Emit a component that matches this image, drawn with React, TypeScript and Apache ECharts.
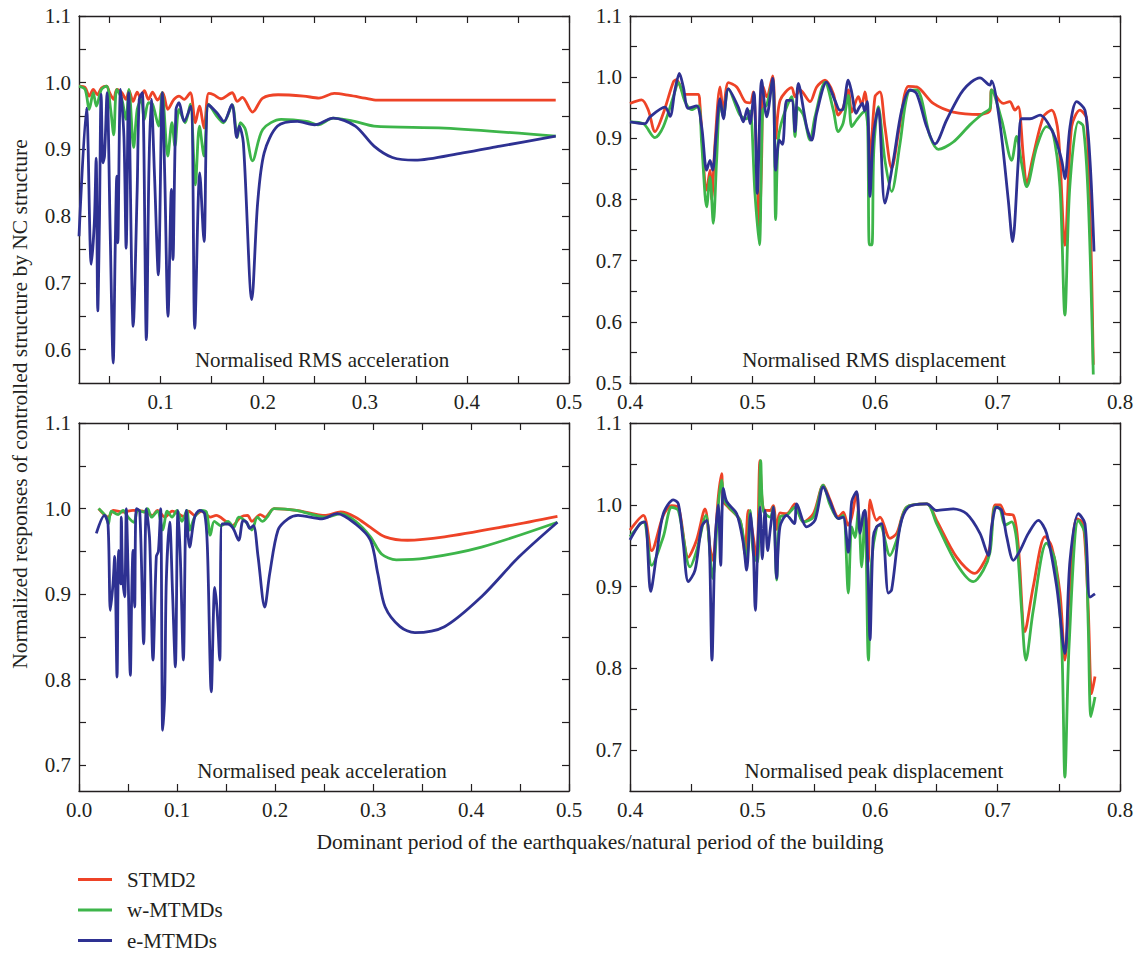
import React, { useEffect, useRef } from "react";
import * as echarts from "echarts";

// ---------- Data ----------
const seriesNames = ["STMD2", "w-MTMDs", "e-MTMDs"];
const seriesColors = ["#EE4327", "#3DB54A", "#2E3192"];

const panelTitles = [
  "Normalised RMS acceleration",
  "Normalised RMS displacement",
  "Normalised peak acceleration",
  "Normalised peak displacement",
];

// tick labels
const accXLabels = [0.1, 0.2, 0.3, 0.4, 0.5];
const accXLabelsBottom = [0.0, 0.1, 0.2, 0.3, 0.4, 0.5];
const accXTicks = [0.05, 0.1, 0.15, 0.2, 0.25, 0.3, 0.35, 0.4, 0.45, 0.5];
const accXTicksBottom = [0.0, 0.05, 0.1, 0.15, 0.2, 0.25, 0.3, 0.35, 0.4, 0.45, 0.5];
const dispXLabels = [0.4, 0.5, 0.6, 0.7, 0.8];
const dispXTicks = [0.4, 0.45, 0.5, 0.55, 0.6, 0.65, 0.7, 0.75, 0.8];
const rmsAccYLabels = [0.6, 0.7, 0.8, 0.9, 1.0, 1.1];
const rmsAccYTicks = [0.6, 0.65, 0.7, 0.75, 0.8, 0.85, 0.9, 0.95, 1.0, 1.05, 1.1];
const rmsDispYLabels = [0.5, 0.6, 0.7, 0.8, 0.9, 1.0, 1.1];
const rmsDispYTicks = [0.5, 0.55, 0.6, 0.65, 0.7, 0.75, 0.8, 0.85, 0.9, 0.95, 1.0, 1.05, 1.1];
const peakYLabels = [0.7, 0.8, 0.9, 1.0, 1.1];
const peakYTicks = [0.7, 0.75, 0.8, 0.85, 0.9, 0.95, 1.0, 1.05, 1.1];

// Normalised RMS acceleration
const rmsAccSTMD2 = [
  [0.02, 0.995], [0.026, 0.993], [0.03, 0.98], [0.034, 0.99], [0.038, 0.982], [0.042, 0.992],
  [0.047, 0.995], [0.05, 0.985], [0.054, 0.975], [0.057, 0.99], [0.062, 0.985], [0.066, 0.975],
  [0.069, 0.988], [0.073, 0.972], [0.077, 0.986], [0.08, 0.978], [0.084, 0.988], [0.088, 0.975],
  [0.092, 0.986], [0.097, 0.974], [0.102, 0.985], [0.107, 0.96], [0.113, 0.975], [0.118, 0.98],
  [0.123, 0.975], [0.129, 0.985], [0.134, 0.94], [0.138, 0.965], [0.1425, 0.932], [0.147, 0.984],
  [0.152, 0.982], [0.159, 0.976], [0.17, 0.985], [0.175, 0.972], [0.18, 0.978], [0.19, 0.956],
  [0.2, 0.977], [0.215, 0.982], [0.24, 0.98], [0.255, 0.977], [0.27, 0.984], [0.285, 0.981],
  [0.3, 0.977], [0.312, 0.974], [0.35, 0.974], [0.4, 0.974], [0.487, 0.974],
];
const rmsAccWMTMD = [
  [0.02, 0.995], [0.026, 0.99], [0.03, 0.96], [0.034, 0.985], [0.037, 0.965], [0.042, 0.99],
  [0.047, 0.995], [0.051, 0.96], [0.054, 0.922], [0.057, 0.99], [0.062, 0.975], [0.066, 0.945],
  [0.069, 0.99], [0.0735, 0.903], [0.077, 0.96], [0.081, 0.975], [0.084, 0.945], [0.088, 0.97],
  [0.092, 0.968], [0.098, 0.935], [0.1015, 0.985], [0.107, 0.89], [0.111, 0.94], [0.114, 0.905],
  [0.118, 0.96], [0.124, 0.94], [0.129, 0.968], [0.134, 0.847], [0.138, 0.935], [0.1425, 0.89],
  [0.147, 0.968], [0.155, 0.95], [0.1615, 0.94], [0.17, 0.967], [0.175, 0.918], [0.178, 0.94],
  [0.183, 0.93], [0.19, 0.883], [0.2, 0.93], [0.218, 0.945], [0.243, 0.942], [0.254, 0.937],
  [0.269, 0.947], [0.29, 0.942], [0.309, 0.935], [0.378, 0.932], [0.487, 0.92],
];
const rmsAccEMTMD = [
  [0.02, 0.77], [0.0273, 0.962], [0.032, 0.728], [0.035, 0.79], [0.0368, 0.887], [0.0384, 0.658],
  [0.04, 0.79], [0.0417, 0.983], [0.0435, 0.88], [0.045, 0.89], [0.0475, 0.985], [0.0505, 0.78],
  [0.0535, 0.58], [0.0555, 0.755], [0.057, 0.86], [0.058, 0.76], [0.0607, 0.99], [0.064, 0.92],
  [0.0662, 0.752], [0.0685, 0.985], [0.0731, 0.635], [0.077, 0.84], [0.079, 0.975], [0.082, 0.985],
  [0.086, 0.615], [0.0885, 0.87], [0.0908, 0.975], [0.094, 0.86], [0.0977, 0.712], [0.1016, 0.985],
  [0.104, 0.86], [0.1072, 0.65], [0.1105, 0.84], [0.112, 0.735], [0.115, 0.96], [0.118, 0.97],
  [0.123, 0.942], [0.1295, 0.965], [0.1334, 0.632], [0.1383, 0.865], [0.1425, 0.762], [0.1468, 0.967],
  [0.155, 0.955], [0.162, 0.942], [0.1697, 0.967], [0.1746, 0.918], [0.177, 0.935], [0.181, 0.91],
  [0.1893, 0.675], [0.195, 0.82], [0.2014, 0.895], [0.2145, 0.935], [0.234, 0.942], [0.2507, 0.937],
  [0.269, 0.947], [0.2907, 0.935], [0.309, 0.905], [0.327, 0.888], [0.349, 0.884], [0.396, 0.895],
  [0.4326, 0.905], [0.487, 0.92],
];

// Normalised RMS displacement
const rmsDispSTMD2 = [
  [0.4, 0.957], [0.4095, 0.963], [0.415, 0.946], [0.4204, 0.911], [0.4272, 0.941], [0.4354, 0.992],
  [0.438, 0.996], [0.4449, 0.972], [0.4558, 0.972], [0.457, 0.957], [0.4626, 0.8155], [0.4653, 0.848],
  [0.4667, 0.8], [0.4694, 0.892], [0.4735, 0.984], [0.4762, 0.946], [0.4803, 0.991], [0.4871, 0.984],
  [0.4939, 0.96], [0.498, 0.958], [0.5007, 0.976], [0.5034, 0.864], [0.5056, 0.756], [0.5075, 0.87],
  [0.5088, 0.984], [0.5116, 0.968], [0.5165, 1.002], [0.519, 0.9], [0.5225, 0.962], [0.532, 0.983],
  [0.5347, 0.968], [0.5388, 0.979], [0.547, 0.96], [0.5524, 0.984], [0.5592, 0.995], [0.566, 0.973],
  [0.57, 0.938], [0.574, 0.95], [0.5782, 0.979], [0.581, 0.943], [0.5864, 0.968], [0.5891, 0.955],
  [0.5918, 0.976], [0.5946, 0.919], [0.596, 0.864], [0.6, 0.968], [0.604, 0.976], [0.6081, 0.919],
  [0.6136, 0.851], [0.62, 0.919], [0.6272, 0.985], [0.634, 0.984], [0.6476, 0.957], [0.6639, 0.943],
  [0.6857, 0.939], [0.6939, 0.946], [0.6952, 0.979], [0.7047, 0.957], [0.71, 0.96], [0.7143, 0.946],
  [0.717, 0.952], [0.7211, 0.87], [0.7238, 0.826], [0.729, 0.87], [0.7374, 0.935], [0.7442, 0.946],
  [0.7496, 0.908], [0.755, 0.725], [0.7605, 0.919], [0.7673, 0.946], [0.7728, 0.932], [0.7782, 0.53],
];
const rmsDispWMTMD = [
  [0.4, 0.927], [0.4109, 0.924], [0.4204, 0.901], [0.4272, 0.919], [0.4354, 0.968], [0.4395, 0.991],
  [0.4449, 0.96], [0.4503, 0.947], [0.4558, 0.953], [0.4585, 0.892], [0.4626, 0.788], [0.4653, 0.837],
  [0.468, 0.761], [0.4707, 0.864], [0.4735, 0.96], [0.4762, 0.935], [0.4803, 0.981], [0.4898, 0.938],
  [0.4952, 0.932], [0.498, 0.945], [0.502, 0.81], [0.5056, 0.726], [0.5083, 0.946], [0.5116, 0.955],
  [0.5165, 0.995], [0.5189, 0.767], [0.521, 0.897], [0.525, 0.935], [0.532, 0.968], [0.5347, 0.903],
  [0.537, 0.95], [0.5415, 0.938], [0.547, 0.897], [0.551, 0.935], [0.5592, 0.992], [0.566, 0.946],
  [0.57, 0.911], [0.574, 0.925], [0.5782, 0.97], [0.581, 0.919], [0.585, 0.93], [0.589, 0.94],
  [0.5918, 0.945], [0.594, 0.92], [0.5954, 0.726], [0.5975, 0.726], [0.599, 0.88], [0.6027, 0.952],
  [0.6081, 0.864], [0.6136, 0.813], [0.6204, 0.891], [0.6272, 0.976], [0.634, 0.979], [0.645, 0.903],
  [0.6517, 0.882], [0.6639, 0.894], [0.6775, 0.922], [0.6884, 0.941], [0.6939, 0.949], [0.6952, 0.979],
  [0.7034, 0.93], [0.7116, 0.864], [0.7156, 0.903], [0.7197, 0.859], [0.7238, 0.821], [0.732, 0.886],
  [0.7401, 0.919], [0.745, 0.912], [0.751, 0.82], [0.755, 0.611], [0.759, 0.82], [0.766, 0.927],
  [0.77, 0.92], [0.7741, 0.8], [0.7782, 0.514],
];
const rmsDispEMTMD = [
  [0.4, 0.927], [0.4122, 0.924], [0.4163, 0.935], [0.4286, 0.951], [0.4327, 0.936], [0.4367, 0.979],
  [0.4403, 1.006], [0.4435, 0.984], [0.4476, 0.949], [0.4544, 0.953], [0.4585, 0.919], [0.4626, 0.848],
  [0.4653, 0.864], [0.4675, 0.848], [0.4702, 0.903], [0.4735, 0.965], [0.4762, 0.932], [0.4803, 0.981],
  [0.4884, 0.951], [0.4925, 0.927], [0.4958, 0.949], [0.498, 0.924], [0.5012, 0.975], [0.5039, 0.81],
  [0.5075, 0.995], [0.5116, 0.935], [0.5165, 0.998], [0.5189, 0.848], [0.5219, 0.897], [0.5245, 0.89],
  [0.5279, 0.962], [0.532, 0.962], [0.5347, 0.911], [0.5374, 0.99], [0.5442, 0.919], [0.5483, 0.897],
  [0.5524, 0.941], [0.5605, 0.992], [0.5673, 0.962], [0.5714, 0.946], [0.574, 0.948], [0.5782, 0.995],
  [0.581, 0.975], [0.5845, 0.941], [0.587, 0.95], [0.5897, 0.957], [0.5915, 0.945], [0.5937, 0.96],
  [0.5959, 0.805], [0.5986, 0.903], [0.6027, 0.949], [0.6081, 0.794], [0.615, 0.864], [0.6218, 0.946],
  [0.6286, 0.979], [0.634, 0.973], [0.6422, 0.919], [0.649, 0.891], [0.6585, 0.93], [0.672, 0.979],
  [0.6857, 0.999], [0.6939, 0.987], [0.6952, 0.994], [0.702, 0.924], [0.7088, 0.799], [0.7123, 0.731],
  [0.717, 0.864], [0.7197, 0.932], [0.7265, 0.932], [0.7347, 0.938], [0.7456, 0.908], [0.7524, 0.864],
  [0.755, 0.834], [0.7592, 0.919], [0.7646, 0.96], [0.7714, 0.946], [0.7755, 0.864], [0.7788, 0.715],
];

// Normalised peak acceleration
const peakAccSTMD2 = [
  [0.02, 1.0], [0.03, 0.99], [0.035, 0.998], [0.045, 0.996], [0.055, 0.998], [0.065, 0.997],
  [0.075, 0.992], [0.08, 0.998], [0.0876, 0.99], [0.095, 0.997], [0.1086, 0.99], [0.112, 0.997],
  [0.118, 0.992], [0.125, 0.997], [0.134, 0.99], [0.14, 0.992], [0.15, 0.985], [0.1563, 0.98],
  [0.165, 0.99], [0.172, 0.992], [0.1764, 0.985], [0.185, 0.993], [0.19, 0.99], [0.199, 1.0],
  [0.2217, 0.998], [0.252, 0.992], [0.267, 0.996], [0.2822, 0.99], [0.2974, 0.978], [0.3124, 0.967],
  [0.3351, 0.963], [0.373, 0.967], [0.4296, 0.978], [0.4882, 0.991],
];
const peakAccWMTMD = [
  [0.02, 1.0], [0.028, 0.99], [0.03, 0.982], [0.033, 0.997], [0.04, 0.993], [0.045, 0.998],
  [0.05, 0.99], [0.056, 0.984], [0.06, 0.998], [0.066, 0.996], [0.07, 1.0], [0.074, 0.99],
  [0.08, 0.997], [0.0855, 0.975], [0.09, 0.997], [0.095, 0.99], [0.1, 0.998], [0.105, 0.985],
  [0.11, 0.998], [0.113, 0.975], [0.118, 0.99], [0.125, 0.998], [0.13, 0.996], [0.134, 0.969],
  [0.138, 0.985], [0.145, 0.98], [0.152, 0.985], [0.158, 0.978], [0.163, 0.99], [0.17, 0.985],
  [0.1764, 0.975], [0.182, 0.99], [0.187, 0.985], [0.192, 0.99], [0.199, 1.0], [0.2217, 0.998],
  [0.252, 0.99], [0.267, 0.994], [0.2822, 0.985], [0.2974, 0.967], [0.3087, 0.947], [0.3238, 0.94],
  [0.354, 0.942], [0.4107, 0.955], [0.4882, 0.984],
];
const peakAccEMTMD = [
  [0.0177, 0.971], [0.026, 0.992], [0.0296, 0.982], [0.032, 0.881], [0.0347, 0.912], [0.0364, 0.944],
  [0.0388, 0.803], [0.0405, 0.951], [0.0425, 0.912], [0.0432, 0.99], [0.0445, 0.92], [0.0466, 0.897],
  [0.0483, 1.0], [0.05, 0.93], [0.0524, 0.805], [0.0538, 0.9], [0.0551, 0.951], [0.0568, 0.885],
  [0.0585, 1.0], [0.062, 0.997], [0.066, 0.842], [0.0687, 1.0], [0.0721, 0.963], [0.0755, 0.823],
  [0.0789, 0.944], [0.081, 0.95], [0.0833, 1.0], [0.0854, 0.741], [0.0874, 0.78], [0.0891, 0.916],
  [0.0925, 0.984], [0.0955, 0.9], [0.0983, 0.815], [0.101, 0.998], [0.1035, 0.94], [0.1065, 0.823],
  [0.1095, 0.998], [0.1129, 0.955], [0.118, 0.99], [0.1231, 0.998], [0.1282, 0.994], [0.131, 0.955],
  [0.135, 0.786], [0.1385, 0.908], [0.141, 0.88], [0.1436, 0.823], [0.146, 0.982], [0.152, 0.982],
  [0.1572, 0.977], [0.163, 0.963], [0.1674, 0.986], [0.171, 0.984], [0.1742, 0.977], [0.178, 0.98],
  [0.1827, 0.944], [0.1895, 0.885], [0.1946, 0.924], [0.2031, 0.975], [0.2133, 0.988], [0.2235, 0.992],
  [0.248, 0.988], [0.2633, 0.994], [0.2822, 0.982], [0.2974, 0.963], [0.3049, 0.924], [0.3124, 0.885],
  [0.3276, 0.862], [0.3427, 0.855], [0.3729, 0.862], [0.4107, 0.897], [0.4485, 0.943], [0.4882, 0.984],
];

// Normalised peak displacement
const peakDispSTMD2 = [
  [0.4, 0.969], [0.4109, 0.987], [0.4177, 0.944], [0.4272, 0.987], [0.434, 0.999], [0.4395, 0.997],
  [0.4476, 0.936], [0.4544, 0.957], [0.4612, 0.995], [0.4653, 0.948], [0.4675, 0.932], [0.4721, 1.01],
  [0.4748, 1.038], [0.4762, 1.004], [0.4803, 0.997], [0.4898, 0.981], [0.4939, 0.94], [0.4966, 0.993],
  [0.5007, 0.96], [0.5035, 0.93], [0.5061, 1.054], [0.5088, 0.995], [0.5143, 0.993], [0.517, 0.999],
  [0.5197, 0.97], [0.5224, 0.99], [0.5279, 0.989], [0.5347, 1.001], [0.5415, 0.979], [0.5497, 0.989],
  [0.5578, 1.024], [0.5633, 1.006], [0.5701, 0.985], [0.5741, 0.991], [0.578, 0.975], [0.581, 0.985],
  [0.585, 1.015], [0.5878, 0.97], [0.5918, 0.99], [0.5946, 0.93], [0.5959, 1.006], [0.6013, 0.981],
  [0.6041, 0.985], [0.6122, 0.959], [0.6177, 0.965], [0.6258, 0.997], [0.6422, 1.001], [0.6503, 0.981],
  [0.6666, 0.936], [0.6816, 0.916], [0.6898, 0.932], [0.6939, 0.949], [0.698, 1.0], [0.7021, 1.0],
  [0.7061, 0.989], [0.713, 0.987], [0.717, 0.949], [0.7224, 0.845], [0.7292, 0.9], [0.7388, 0.961],
  [0.7442, 0.949], [0.751, 0.892], [0.755, 0.81], [0.759, 0.9], [0.7646, 0.983], [0.77, 0.977],
  [0.7741, 0.871], [0.7769, 0.769], [0.7796, 0.79],
];
const peakDispWMTMD = [
  [0.4, 0.961], [0.4109, 0.979], [0.4177, 0.926], [0.4272, 0.961], [0.434, 0.997], [0.4395, 0.993],
  [0.449, 0.924], [0.4544, 0.944], [0.462, 0.987], [0.4653, 0.94], [0.4675, 0.91], [0.4721, 1.0],
  [0.4748, 1.03], [0.4775, 1.004], [0.4898, 0.981], [0.4952, 0.932], [0.498, 0.993], [0.5007, 0.94],
  [0.504, 0.93], [0.5067, 1.054], [0.5088, 0.993], [0.5143, 0.985], [0.517, 0.997], [0.5197, 0.908],
  [0.5224, 0.985], [0.5279, 0.987], [0.5347, 0.997], [0.5415, 0.979], [0.5497, 0.985], [0.5578, 1.024],
  [0.5633, 1.0], [0.5701, 0.983], [0.5741, 0.987], [0.5782, 0.892], [0.581, 0.973], [0.5837, 0.96],
  [0.5864, 0.993], [0.5891, 0.924], [0.5918, 0.993], [0.5946, 0.81], [0.5973, 0.932], [0.6014, 0.973],
  [0.6041, 0.975], [0.6122, 0.938], [0.6177, 0.957], [0.6258, 0.997], [0.6422, 1.001], [0.6503, 0.977],
  [0.6666, 0.928], [0.6803, 0.906], [0.6884, 0.92], [0.6939, 0.942], [0.698, 0.997], [0.7021, 0.995],
  [0.7061, 0.975], [0.7116, 0.979], [0.7156, 0.957], [0.7197, 0.871], [0.7232, 0.81], [0.7292, 0.871],
  [0.74, 0.953], [0.7469, 0.932], [0.7524, 0.83], [0.755, 0.667], [0.7585, 0.83], [0.766, 0.981],
  [0.7714, 0.965], [0.7741, 0.851], [0.7763, 0.741], [0.7796, 0.765],
];
const peakDispEMTMD = [
  [0.4, 0.957], [0.4082, 0.977], [0.4122, 0.979], [0.4169, 0.894], [0.4218, 0.94], [0.4272, 0.989],
  [0.4354, 1.006], [0.4395, 1.001], [0.4435, 0.953], [0.4476, 0.906], [0.4531, 0.92], [0.4585, 0.973],
  [0.4626, 0.981], [0.4648, 0.953], [0.4669, 0.81], [0.4694, 0.953], [0.4721, 1.0], [0.474, 0.926],
  [0.4762, 1.02], [0.4789, 1.004], [0.4871, 0.989], [0.4925, 0.953], [0.4952, 0.92], [0.4985, 0.989],
  [0.5007, 0.944], [0.5023, 0.871], [0.5045, 0.96], [0.5061, 0.997], [0.508, 0.934], [0.5102, 0.993],
  [0.5124, 0.944], [0.5145, 0.97], [0.517, 0.997], [0.5197, 0.91], [0.5224, 0.973], [0.5279, 0.987],
  [0.5341, 0.977], [0.5361, 1.001], [0.5442, 0.973], [0.551, 0.981], [0.5578, 1.022], [0.5633, 1.004],
  [0.5701, 0.983], [0.574, 0.985], [0.5782, 0.942], [0.581, 1.004], [0.585, 1.016], [0.5878, 0.965],
  [0.5905, 0.99], [0.5918, 0.993], [0.5946, 0.904], [0.5959, 0.835], [0.5985, 0.96], [0.6013, 0.973],
  [0.6054, 0.977], [0.6109, 0.892], [0.6136, 0.896], [0.6204, 0.973], [0.6272, 0.997], [0.6422, 1.001],
  [0.6503, 0.993], [0.664, 0.995], [0.6748, 0.989], [0.6857, 0.965], [0.6925, 0.938], [0.6952, 0.973],
  [0.6993, 0.997], [0.7034, 0.993], [0.7075, 0.961], [0.713, 0.932], [0.7184, 0.944], [0.7252, 0.965],
  [0.7333, 0.981], [0.7401, 0.965], [0.7483, 0.9], [0.755, 0.818], [0.7592, 0.932], [0.766, 0.989],
  [0.7714, 0.977], [0.7755, 0.887], [0.7796, 0.891],
];

// ---------- Layout / styles ----------
const FONT = "Liberation Serif";
const TEXT_COLOR = "#231f20";
const AXIS_COLOR = "#231f20";

const panels = [
  { grid: { left: 79, top: 16, width: 490, height: 367 }, x: [0.02, 0.5], xl: accXLabels, xt: accXTicks, y: [0.55, 1.1], yl: rmsAccYLabels, yt: rmsAccYTicks, data: [rmsAccSTMD2, rmsAccWMTMD, rmsAccEMTMD], title: [322, 360] },
  { grid: { left: 630, top: 16, width: 490, height: 367 }, x: [0.4, 0.8], xl: dispXLabels, xt: dispXTicks, y: [0.5, 1.1], yl: rmsDispYLabels, yt: rmsDispYTicks, data: [rmsDispSTMD2, rmsDispWMTMD, rmsDispEMTMD], title: [874, 360] },
  { grid: { left: 79, top: 423, width: 490, height: 368 }, x: [0.0, 0.5], xl: accXLabelsBottom, xt: accXTicksBottom, y: [0.67, 1.1], yl: peakYLabels, yt: peakYTicks, data: [peakAccSTMD2, peakAccWMTMD, peakAccEMTMD], title: [322, 771] },
  { grid: { left: 630, top: 423, width: 490, height: 368 }, x: [0.4, 0.8], xl: dispXLabels, xt: dispXTicks, y: [0.65, 1.1], yl: peakYLabels, yt: peakYTicks, data: [peakDispSTMD2, peakDispWMTMD, peakDispEMTMD], title: [874, 771] },
];

function axisBase(show: boolean, labels: number[], ticks: number[], min: number, max: number, gridIndex: number, position: string) {
  return {
    type: "value",
    gridIndex,
    min,
    max,
    position,
    axisLine: { show: true, onZero: false, lineStyle: { color: AXIS_COLOR, width: 1.4 } },
    axisTick: { show: true, inside: true, length: 7, customValues: ticks, lineStyle: { color: AXIS_COLOR, width: 1.2 } },
    axisLabel: {
      show,
      customValues: labels,
      formatter: (v: number) => v.toFixed(1),
      fontFamily: FONT,
      fontSize: 21,
      color: TEXT_COLOR,
      margin: 8,
    },
    splitLine: { show: false },
    minorTick: { show: false },
  };
}

function textEl(text: string, x: number, y: number, size: number, rotation = 0) {
  return {
    type: "text",
    x,
    y,
    rotation,
    style: { text, align: "center", verticalAlign: "middle", fontFamily: FONT, fontSize: size, fill: TEXT_COLOR },
  };
}

export default function App() {
  const ref = useRef<HTMLDivElement>(null);
  useEffect(() => {
    document.body.style.margin = "0";
    document.body.style.overflow = "hidden";
    if (!ref.current) return;
    const chart = echarts.init(ref.current, null, { renderer: "svg" });

    const grids: any[] = [];
    const xAxes: any[] = [];
    const yAxes: any[] = [];
    const series: any[] = [];
    const graphics: any[] = [];

    panels.forEach((p, g) => {
      grids.push({ ...p.grid, containLabel: false, outerBoundsMode: "none" });
      xAxes.push(axisBase(true, p.xl, p.xt, p.x[0], p.x[1], g, "bottom"));
      xAxes.push(axisBase(false, p.xl, p.xt, p.x[0], p.x[1], g, "top"));
      yAxes.push(axisBase(true, p.yl, p.yt, p.y[0], p.y[1], g, "left"));
      yAxes.push(axisBase(false, p.yl, p.yt, p.y[0], p.y[1], g, "right"));
      p.data.forEach((d, s) => {
        series.push({
          name: seriesNames[s],
          type: "line",
          xAxisIndex: 2 * g,
          yAxisIndex: 2 * g,
          data: d,
          showSymbol: false,
          smooth: 0.3,
          lineStyle: { color: seriesColors[s], width: 2.8 },
          itemStyle: { color: seriesColors[s] },
          z: 2 + s,
        });
      });
      graphics.push(textEl(panelTitles[g], p.title[0], p.title[1], 21));
    });

    graphics.push(textEl("Normalized responses of controlled structure by NC structure", 20, 404, 21.5, Math.PI / 2));
    graphics.push(textEl("Dominant period of the earthquakes/natural period of the building", 600, 842, 21.5));

    chart.setOption({
      animation: false,
      backgroundColor: "#ffffff",
      textStyle: { fontFamily: FONT },
      grid: grids,
      xAxis: xAxes,
      yAxis: yAxes,
      series,
      graphic: graphics,
      tooltip: { show: false },
      legend: {
        data: seriesNames,
        orient: "vertical",
        left: 78,
        top: 869,
        height: 84,
        padding: 0,
        icon: "rect",
        itemWidth: 34,
        itemHeight: 3,
        itemGap: 9.5,
        textStyle: { fontFamily: FONT, fontSize: 21, color: TEXT_COLOR, lineHeight: 20, padding: [0, 0, 0, 10] },
      },
    });
    return () => chart.dispose();
  }, []);
  return <div ref={ref} style={{ width: 1135, height: 953 }} />;
}
